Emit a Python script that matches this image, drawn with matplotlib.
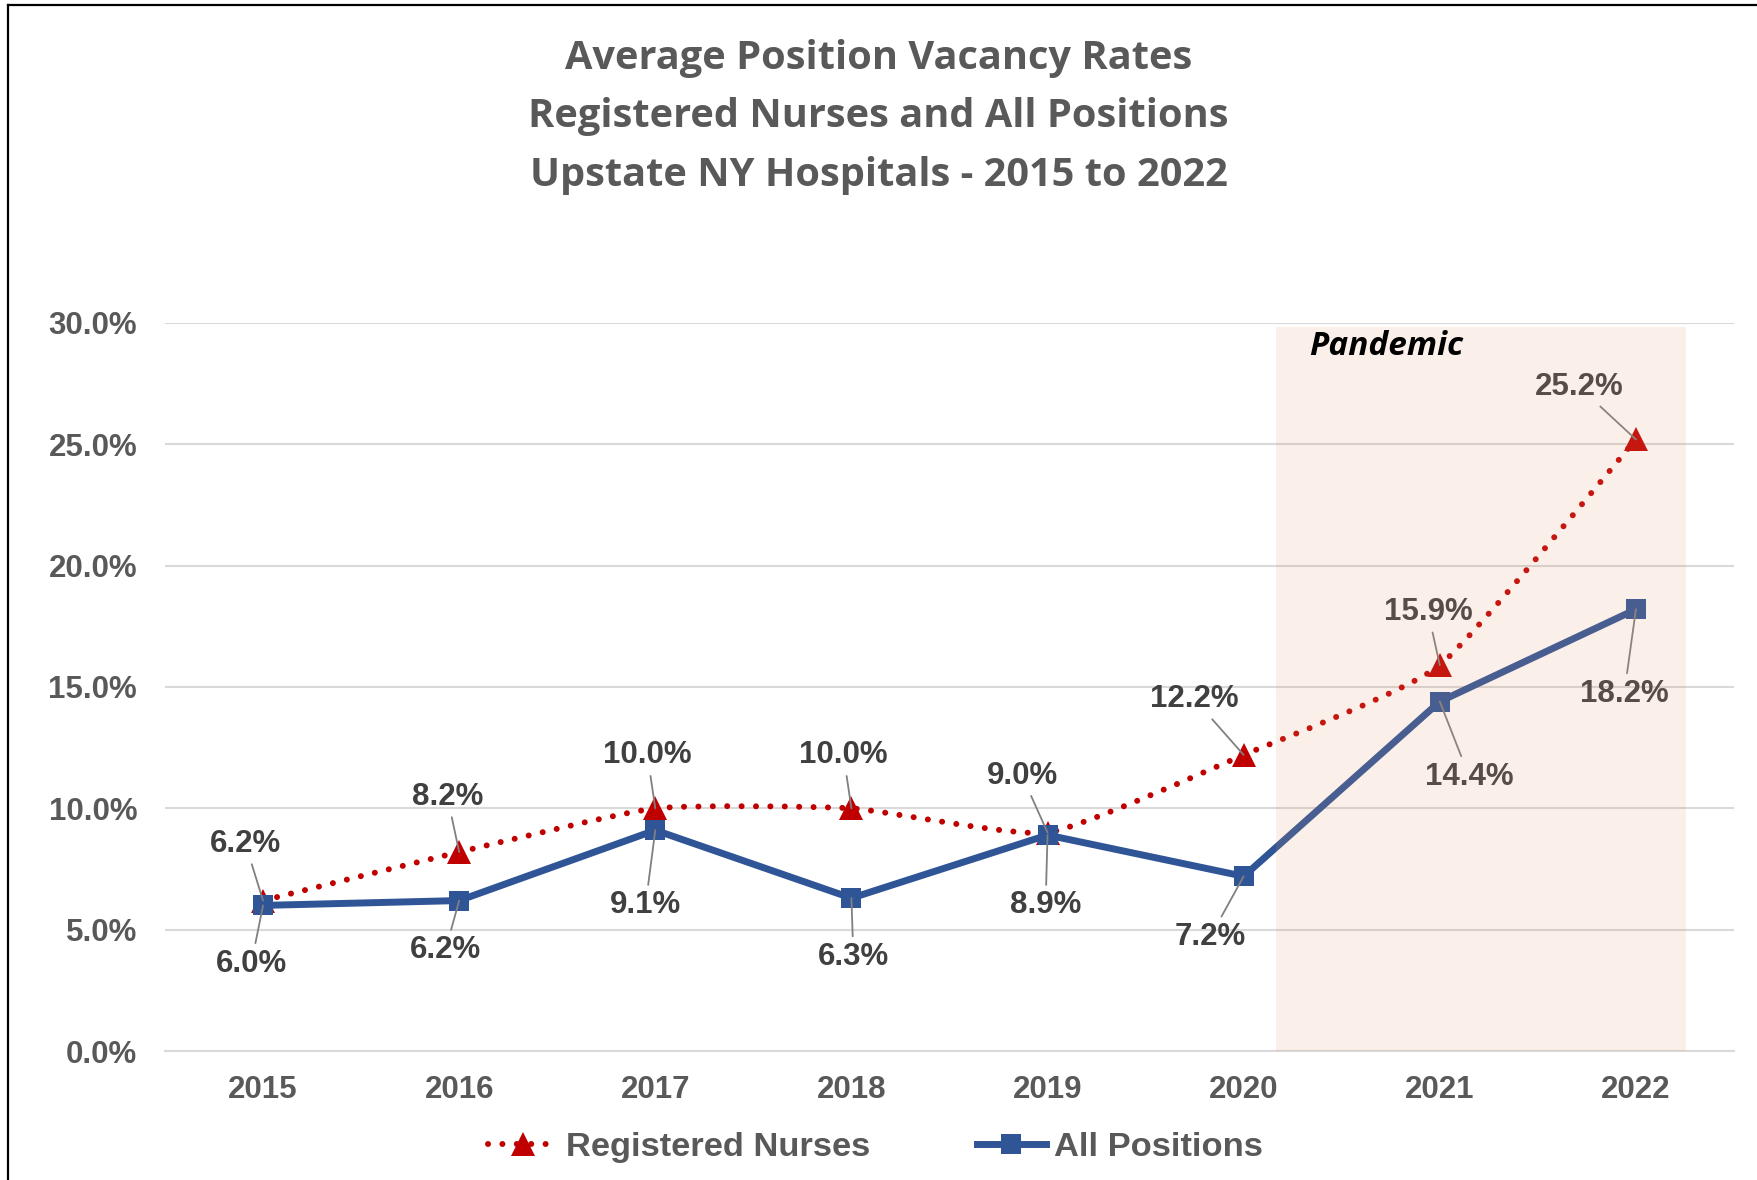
import numpy as np
import matplotlib
matplotlib.use("Agg")
import matplotlib.pyplot as plt
from matplotlib.lines import Line2D
from matplotlib.path import Path
from matplotlib.patches import PathPatch

# chart data
years = ["2015", "2016", "2017", "2018", "2019", "2020", "2021", "2022"]
rn_rates = [6.2, 8.2, 10.0, 10.0, 9.0, 12.2, 15.9, 25.2]    # Registered Nurses
all_rates = [6.0, 6.2, 9.1, 6.3, 8.9, 7.2, 14.4, 18.2]     # All Positions
y_ticks = [0, 5, 10, 15, 20, 25, 30]
title_lines = ["Average Position Vacancy Rates",
               "Registered Nurses and All Positions",
               "Upstate NY Hospitals - 2015 to 2022"]

# label offsets (data units) from each point
rn_off = [(-0.09, 2.34), (-0.06, 2.28), (-0.04, 2.18), (-0.04, 2.18),
          (-0.13, 2.35), (-0.25, 2.29), (-0.06, 2.19), (-0.29, 2.17)]
all_off = [(-0.06, -2.40), (-0.07, -2.05), (-0.05, -3.10), (0.01, -2.42),
           (-0.01, -2.90), (-0.17, -2.49), (0.15, -3.09), (-0.06, -3.48)]

RED = "#C00000"
BLUE = "#2F5597"
GRID = "#D9D9D9"
TXT = "#595959"
LBL = "#404040"
NUM_FONT = "Liberation Sans"


def smooth_path(xs, ys, tension=1 / 12):
    """Mildly smoothed line through the points (Catmull-Rom as Bezier)"""
    pts = np.column_stack([xs, ys]).astype(float)
    n = len(pts)
    verts = [pts[0]]
    codes = [Path.MOVETO]
    for i in range(n - 1):
        p0 = pts[i - 1] if i > 0 else pts[i]
        p1 = pts[i]
        p2 = pts[i + 1]
        p3 = pts[i + 2] if i + 2 < n else pts[i + 1]
        verts += [p1 + (p2 - p0) * tension, p2 - (p3 - p1) * tension, p2]
        codes += [Path.CURVE4] * 3
    return Path(verts, codes)


fig = plt.figure(figsize=(17.57, 11.80), dpi=100)
ax = fig.add_axes([0.0939, 0.1093, 0.893, 0.6170])

x = np.arange(len(years))
dot_style = (0, (0.01, 2.4))

# Registered nurses: smoothed dotted line
rn_patch = PathPatch(smooth_path(x, rn_rates), fill=False, edgecolor=RED,
                     lw=4.3, linestyle=dot_style, capstyle="round", zorder=3)
ax.add_patch(rn_patch)
ax.plot(x, rn_rates, linestyle="none", marker="^", ms=17, color=RED,
        markeredgewidth=0, zorder=4)

# All positions
ax.plot(x, all_rates, color=BLUE, lw=5, marker="s", ms=15,
        markeredgewidth=0, zorder=4, solid_capstyle="round")

# data labels with leader lines
for xi, v, (dx, dy) in zip(x, rn_rates, rn_off):
    ax.annotate(f"{v:.1f}%", xy=(xi, v), xytext=(xi + dx, v + dy),
                ha="center", va="center", fontsize=22.5, fontweight="bold",
                family=NUM_FONT, color=LBL, zorder=5,
                arrowprops=dict(arrowstyle="-", color="#808080", lw=1.3,
                                shrinkA=2, shrinkB=0))
for xi, v, (dx, dy) in zip(x, all_rates, all_off):
    ax.annotate(f"{v:.1f}%", xy=(xi, v), xytext=(xi + dx, v + dy),
                ha="center", va="center", fontsize=22.5, fontweight="bold",
                family=NUM_FONT, color=LBL, zorder=5,
                arrowprops=dict(arrowstyle="-", color="#808080", lw=1.3,
                                shrinkA=2, shrinkB=0))

# pandemic overlay (semi transparent, sits over lines and labels)
ax.axvspan(5.164, 7.255, ymin=0, ymax=0.995, color="#E4946C", alpha=0.15,
           lw=0, zorder=6)
ax.text(5.725, 29.05, "Pandemic", ha="center", va="center", fontsize=24,
        fontweight="bold", fontstyle="italic", family="Open Sans",
        color="black", zorder=7)

# axes styling
ax.set_xlim(-0.5, 7.5)
ax.set_ylim(0, 30)
ax.set_xticks(x)
ax.set_xticklabels(years)
ax.set_yticks(y_ticks)
ax.set_yticklabels([f"{t:.1f}%" for t in y_ticks])
for lab in ax.get_xticklabels() + ax.get_yticklabels():
    lab.set_fontfamily(NUM_FONT)
    lab.set_fontweight("bold")
    lab.set_fontsize(22.5)
    lab.set_color(TXT)
ax.tick_params(axis="both", length=0)
ax.tick_params(axis="x", pad=17)
ax.tick_params(axis="y", pad=20)
ax.grid(axis="y", color=GRID, lw=1.5, zorder=0)
ax.set_axisbelow(True)
for side in ["top", "right", "left"]:
    ax.spines[side].set_visible(False)
ax.spines["bottom"].set_color(GRID)
ax.spines["bottom"].set_linewidth(1.5)

# title
fig.text(0.5, 1 - 117 / 1180, "\n".join(title_lines), ha="center", va="center",
         fontsize=28.6, fontweight="bold", family="Open Sans", color=TXT,
         linespacing=1.65)

# legend
handles = [
    Line2D([], [], color=RED, lw=4.3, linestyle=dot_style,
           dash_capstyle="round", marker="^", ms=17, markeredgewidth=0),
    Line2D([], [], color=BLUE, lw=5, marker="s", ms=15, markeredgewidth=0),
]
leg = fig.legend(handles, ["Registered Nurses", "All Positions"],
                 loc="center", bbox_to_anchor=(0.4985, 1 - 1147 / 1180),
                 ncol=2, frameon=False, handlelength=2.0, handletextpad=0.25,
                 columnspacing=3.1,
                 prop=dict(family=NUM_FONT, weight="bold", size=24.8))
for t in leg.get_texts():
    t.set_color(TXT)

# frame edges visible in the original (left and top)
fig.add_artist(Line2D([8 / 1757, 8 / 1757], [0, 1 - 5 / 1180], color="black",
                      lw=1.6, transform=fig.transFigure))
fig.add_artist(Line2D([8 / 1757, 1], [1 - 5 / 1180, 1 - 5 / 1180], color="black",
                      lw=1.6, transform=fig.transFigure))

fig.savefig("out.png", dpi=100)
